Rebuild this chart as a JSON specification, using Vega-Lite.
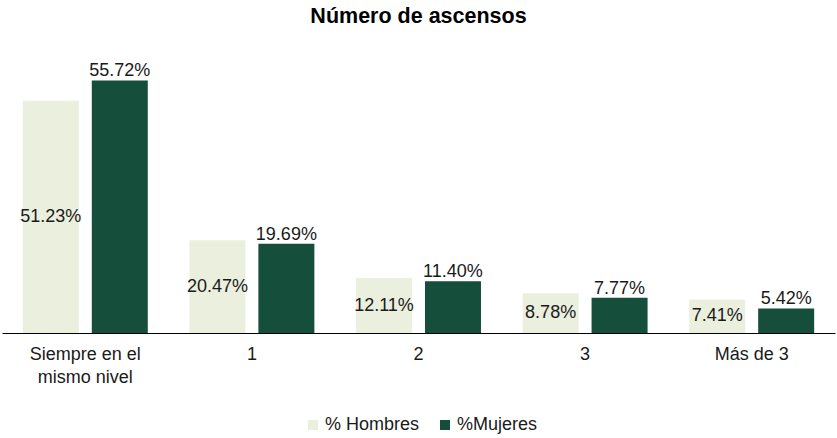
{
  "$schema": "https://vega.github.io/schema/vega-lite/v6.json",
  "autosize": "none",
  "width": 833,
  "height": 272,
  "padding": {"left": 2, "right": 2, "top": 61, "bottom": 105},
  "background": "white",
  "config": {"view": {"stroke": null}, "font": "Liberation Sans"},
  "title": {"text": "Número de ascensos", "font": "Liberation Sans", "fontSize": 21.5, "fontWeight": "bold", "color": "#000000", "anchor": "middle", "offset": 34},
  "data": {"values": [
    {"cat": "Siempre en el mismo nivel", "serie": "% Hombres", "v": 0.5123},
    {"cat": "Siempre en el mismo nivel", "serie": "%Mujeres", "v": 0.5572},
    {"cat": "1", "serie": "% Hombres", "v": 0.2047},
    {"cat": "1", "serie": "%Mujeres", "v": 0.1969},
    {"cat": "2", "serie": "% Hombres", "v": 0.1211},
    {"cat": "2", "serie": "%Mujeres", "v": 0.1140},
    {"cat": "3", "serie": "% Hombres", "v": 0.0878},
    {"cat": "3", "serie": "%Mujeres", "v": 0.0777},
    {"cat": "Más de 3", "serie": "% Hombres", "v": 0.0741},
    {"cat": "Más de 3", "serie": "%Mujeres", "v": 0.0542}
  ]},
  "encoding": {
    "x": {"field": "cat", "type": "nominal", "sort": null,
      "scale": {"paddingInner": 0.25, "paddingOuter": 0.125},
      "axis": {"title": null, "labelAngle": 0, "ticks": false, "domainColor": "#000000", "domainWidth": 1.2,
        "labelFont": "Liberation Sans", "labelFontSize": 18, "labelColor": "#1a1a1a", "labelPadding": 12,
        "labelExpr": "datum.value == 'Siempre en el mismo nivel' ? ['Siempre en el', 'mismo nivel'] : datum.label",
        "labelLineHeight": 23}},
    "xOffset": {"field": "serie", "type": "nominal", "sort": ["% Hombres", "%Mujeres"], "scale": {"paddingInner": 0.188, "paddingOuter": 0}},
    "y": {"field": "v", "type": "quantitative", "scale": {"domain": [0, 0.6]}, "axis": null}
  },
  "layer": [
    {
      "mark": {"type": "bar"},
      "encoding": {
        "color": {"field": "serie", "type": "nominal", "sort": ["% Hombres", "%Mujeres"],
          "scale": {"domain": ["% Hombres", "%Mujeres"], "range": ["#EBEFDE", "#154E3A"]},
          "legend": {"title": null, "orient": "none", "legendX": 302, "legendY": 355, "direction": "horizontal", "symbolType": "square", "symbolSize": 100, "symbolStrokeWidth": 0,
            "labelFont": "Liberation Sans", "labelFontSize": 18, "labelColor": "#1a1a1a", "columnPadding": 16, "labelOffset": 3}}
      }
    },
    {
      "transform": [{"filter": "datum.serie == '%Mujeres'"}],
      "mark": {"type": "text", "baseline": "alphabetic", "dy": -4, "fontSize": 18, "font": "Liberation Sans", "color": "#1a1a1a"},
      "encoding": {"text": {"field": "v", "type": "quantitative", "format": ".2%"}}
    },
    {
      "transform": [{"filter": "datum.serie == '% Hombres'"}, {"calculate": "datum.v / 2", "as": "half"}],
      "mark": {"type": "text", "baseline": "middle", "fontSize": 18, "font": "Liberation Sans", "color": "#1a1a1a"},
      "encoding": {
        "y": {"field": "half", "type": "quantitative"},
        "text": {"field": "v", "type": "quantitative", "format": ".2%"}
      }
    }
  ]
}
